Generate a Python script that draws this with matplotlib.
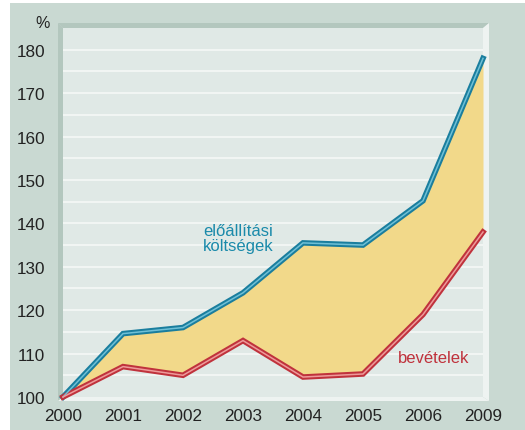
import matplotlib
matplotlib.use("Agg")
import matplotlib.pyplot as plt
from matplotlib.patches import Rectangle, Polygon

years = ["2000", "2001", "2002", "2003", "2004", "2005", "2006", "2009"]
costs = [100, 114.6, 116.0, 124.0, 135.5, 135.0, 145.2, 178.0]
revenues = [100, 107.0, 105.0, 113.0, 104.6, 105.3, 119.0, 138.0]
yticks = [100, 110, 120, 130, 140, 150, 160, 170, 180]

W, H = 525, 431
plt.rcParams['font.family'] = ['Liberation Sans', 'DejaVu Sans']
fig = plt.figure(figsize=(W / 100, H / 100), dpi=100, facecolor='white')

def fx(px):
    return px / W

def fy(py):
    return 1 - py / H

# background panel
fig.patches.append(Rectangle((fx(10), 0), 1 - fx(10), fy(4), transform=fig.transFigure,
                             facecolor='#C9D9D2', edgecolor='none', zorder=0))
# bevel frame
L, T, R, B = 63, 29, 483, 398
dark = '#B3C7BE'
light = '#EEF3F1'
fig.patches.append(Polygon([(fx(58), fy(24)), (fx(R + 6), fy(24)), (fx(R), fy(T)), (fx(L), fy(T))],
                           closed=True, transform=fig.transFigure, facecolor=dark, edgecolor='none', zorder=1))
fig.patches.append(Polygon([(fx(58), fy(24)), (fx(L), fy(T)), (fx(L), fy(B)), (fx(58), fy(B + 4))],
                           closed=True, transform=fig.transFigure, facecolor=dark, edgecolor='none', zorder=1))
fig.patches.append(Polygon([(fx(R + 6), fy(24)), (fx(R + 6), fy(B + 4)), (fx(R), fy(B)), (fx(R), fy(T))],
                           closed=True, transform=fig.transFigure, facecolor=light, edgecolor='none', zorder=1))
fig.patches.append(Polygon([(fx(58), fy(B + 4)), (fx(R + 6), fy(B + 4)), (fx(R), fy(B)), (fx(L), fy(B))],
                           closed=True, transform=fig.transFigure, facecolor=light, edgecolor='none', zorder=1))

ax = fig.add_axes([fx(L), fy(B), fx(R) - fx(L), fy(T) - fy(B)])
ax.set_facecolor('#E0E9E6')
ax.set_zorder(2)
x = list(range(len(years)))
ax.set_xlim(0, len(years) - 1)
ax.set_ylim(100, 185)

for g in range(105, 185, 5):
    ax.axhline(g, color='#F3F7F5', lw=1.3, zorder=1)

ax.fill_between(x, revenues, costs, color='#F2D98A', zorder=2, lw=0)
ax.plot(x, costs, color='#1A7E9E', lw=4.0, zorder=3, solid_joinstyle='miter', clip_on=False)
ax.plot(x, costs, color='#6FC0D6', lw=1.1, zorder=4, solid_joinstyle='miter', clip_on=False)
ax.plot(x, revenues, color='#C0323C', lw=4.0, zorder=3, solid_joinstyle='miter', clip_on=False)
ax.plot(x, revenues, color='#EE9A9A', lw=1.1, zorder=4, solid_joinstyle='miter', clip_on=False)

for s in ax.spines.values():
    s.set_visible(False)
ax.set_xticks(x)
ax.set_xticklabels(years, fontsize=12.3, color='#222222')
ax.set_yticks(yticks)
ax.set_yticklabels([str(v) for v in yticks], fontsize=12.3, color='#222222')
ax.tick_params(length=0)
ax.tick_params(axis='y', pad=13)
ax.tick_params(axis='x', pad=8)

ax.text(2.33, 136.6, "előállítási\nköltségek", color='#1A8AAA', fontsize=12,
        ha='left', va='center', linespacing=1.0, zorder=5)
ax.text(6.17, 109, "bevételek", color='#C0323C', fontsize=12, ha='center', va='center', zorder=5)
fig.text(fx(43), fy(24), "%", fontsize=11.5, color='#222222', ha='center', va='center')

fig.savefig("out.png", dpi=100, facecolor='white')
